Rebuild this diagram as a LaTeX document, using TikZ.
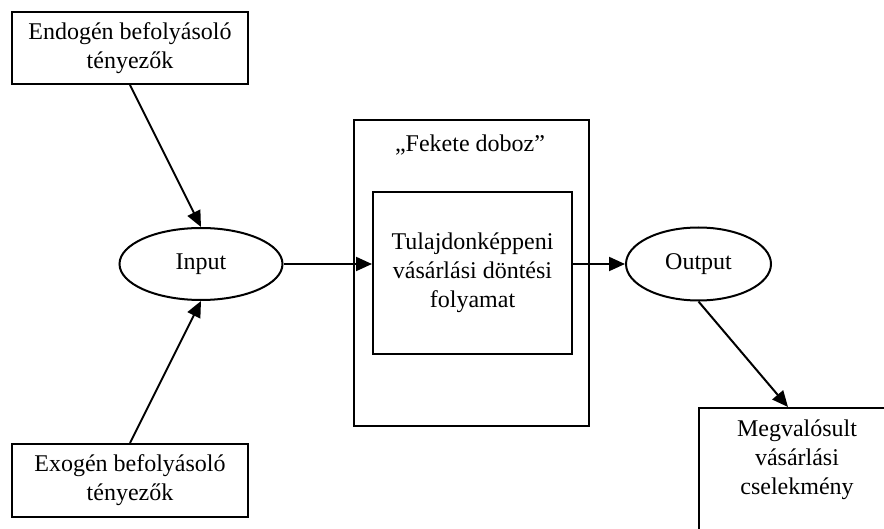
\documentclass[tikz,border=0pt]{standalone}
\usepackage{fontspec}
\setmainfont{Liberation Serif}
\usetikzlibrary{arrows.meta,calc,shapes.geometric}
\begin{document}
\begin{tikzpicture}[x=0.5pt,y=-0.5pt,
  every node/.style={font=\fontsize{12pt}{14.5pt}\selectfont, inner sep=0pt, align=center},
  box/.style={draw, line width=1pt, rectangle},
  oval/.style={draw, line width=1pt, ellipse},
  arr/.style={line width=1pt, -{Triangle[length=8pt,width=7pt]}}]
\useasboundingbox (0,0) rectangle (884,529);
\clip (0,0) rectangle (884,529);
\node[box, minimum width=118pt, minimum height=36pt] (endo) at (130,48) {Endogén befolyásoló\\tényezők};
\node[box, minimum width=118pt, minimum height=36.5pt] (exo) at (130,480.5) {Exogén befolyásoló\\tényezők};
\node[oval, minimum width=81.5pt, minimum height=36pt] (input) at (201,264) {Input};
\node[box, minimum width=117.5pt, minimum height=153pt] (black) at (471.5,273) {};
\node (blacklabel) at (470,145) {„Fekete doboz”};
\node[box, minimum width=99.5pt, minimum height=81pt] (inner) at (472.5,273) {Tulajdonképpeni\\vásárlási döntési\\folyamat};
\node[oval, minimum width=72.5pt, minimum height=36.5pt] (output) at (698.5,264) {Output};
\node[box, minimum width=130pt, minimum height=80pt, anchor=north west] (megv) at (698,407) {};
\node (megvtext) at (797,460) {Megvalósult\\vásárlási\\cselekmény};
\draw[arr] (endo.south) -- (input.north);
\draw[arr] (exo.north) -- (input.south);
\draw[arr] (input.east) -- (inner.west |- input.east);
\draw[arr] (inner.east |- output.west) -- (output.west);
\draw[arr] (output.south) -- ($(megv.north west)+(90,0)$);
\end{tikzpicture}
\end{document}
